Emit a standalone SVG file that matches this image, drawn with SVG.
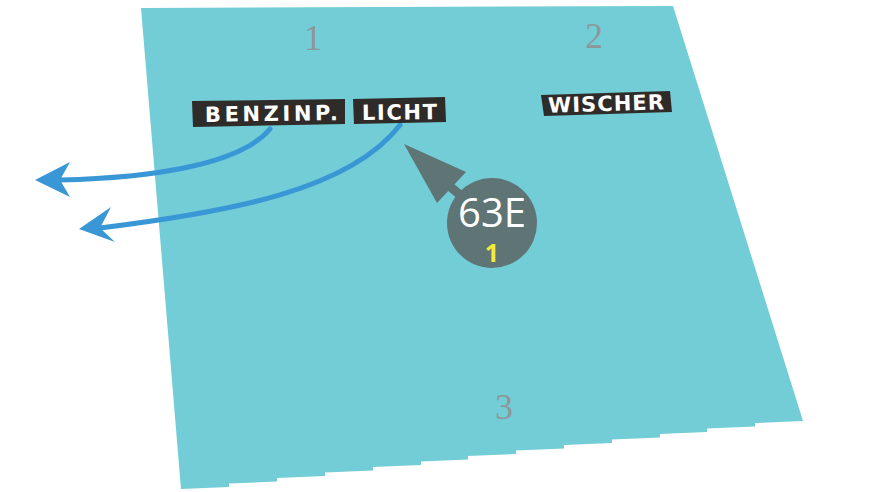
<svg xmlns="http://www.w3.org/2000/svg" width="873" height="492" viewBox="0 0 873 492">
<style>
.num{font-family:"Liberation Serif",serif;font-size:36px;fill:#8c9898}
.lbl{font-family:"DejaVu Sans",sans-serif;font-weight:bold;font-size:21px;fill:#ffffff}
.box{fill:#2f2b29}
.conn{fill:none;stroke:#3a97d6;stroke-width:5;stroke-linecap:round}
.head{fill:#3a97d6}
</style>
<rect width="873" height="492" fill="#ffffff"/>
<g id="panel">
<path d="M141,8 L673,6 L803,421 L755,423 L755,426.5 L707,428.5 L707,432 L660,434 L660,437.5 L612,439.5 L612,443 L564,445 L564,448.5 L516,450.5 L516,454 L468,456 L468,459.5 L421,461.5 L421,465 L373,467 L373,470.5 L325,472.5 L325,476 L277,478 L277,481.5 L229,483.5 L229,487 L181,489 Z" fill="#72cdd7"/>
</g>
<g id="numbers">
<text class="num" x="313" y="50" text-anchor="middle">1</text>
<text class="num" x="594" y="48" text-anchor="middle">2</text>
<text class="num" x="504" y="419" text-anchor="middle">3</text>
</g>
<g id="connectors">
<path class="conn" d="M270,129 C240,165 150,178 60,180"/>
<polygon class="head" points="35,180 70,162 60,180 70,197"/>
<path class="conn" d="M400,125 C350,190 230,212 100,228"/>
<polygon class="head" points="79,229 111,207 100,228 115,242"/>
</g>
<g id="benzinp">
<polygon class="box" points="192,101 345,99 345,124 193,127"/>
<text class="lbl" x="205" y="121" textLength="133" lengthAdjust="spacing" transform="rotate(-0.8 269 113)">BENZINP.</text>
</g>
<g id="licht">
<polygon class="box" points="353,99 445,97 446,122 354,124"/>
<text class="lbl" x="362" y="119.5" textLength="75" lengthAdjust="spacing" transform="rotate(-0.8 399 111)">LICHT</text>
</g>
<g id="wischer">
<polygon class="box" points="541,95 670,91 672,112 544,116"/>
<text class="lbl" x="548" y="111" font-size="18" textLength="116" lengthAdjust="spacing" transform="rotate(-1.8 606 104)">WISCHER</text>
</g>
<g id="callout">
<path d="M492,222 L440,178" stroke="#5f7474" stroke-width="9" fill="none"/>
<polygon points="404,144 466,172 437,203" fill="#5f7474"/>
<circle cx="492" cy="223" r="45" fill="#5f7474"/>
<text x="492" y="227" text-anchor="middle" font-family="'Open Sans',sans-serif" font-size="40" fill="#ffffff">63E</text>
<text x="492" y="262" text-anchor="middle" font-family="'Open Sans',sans-serif" font-weight="bold" font-size="25" fill="#f5e93a">1</text>
</g>
</svg>
